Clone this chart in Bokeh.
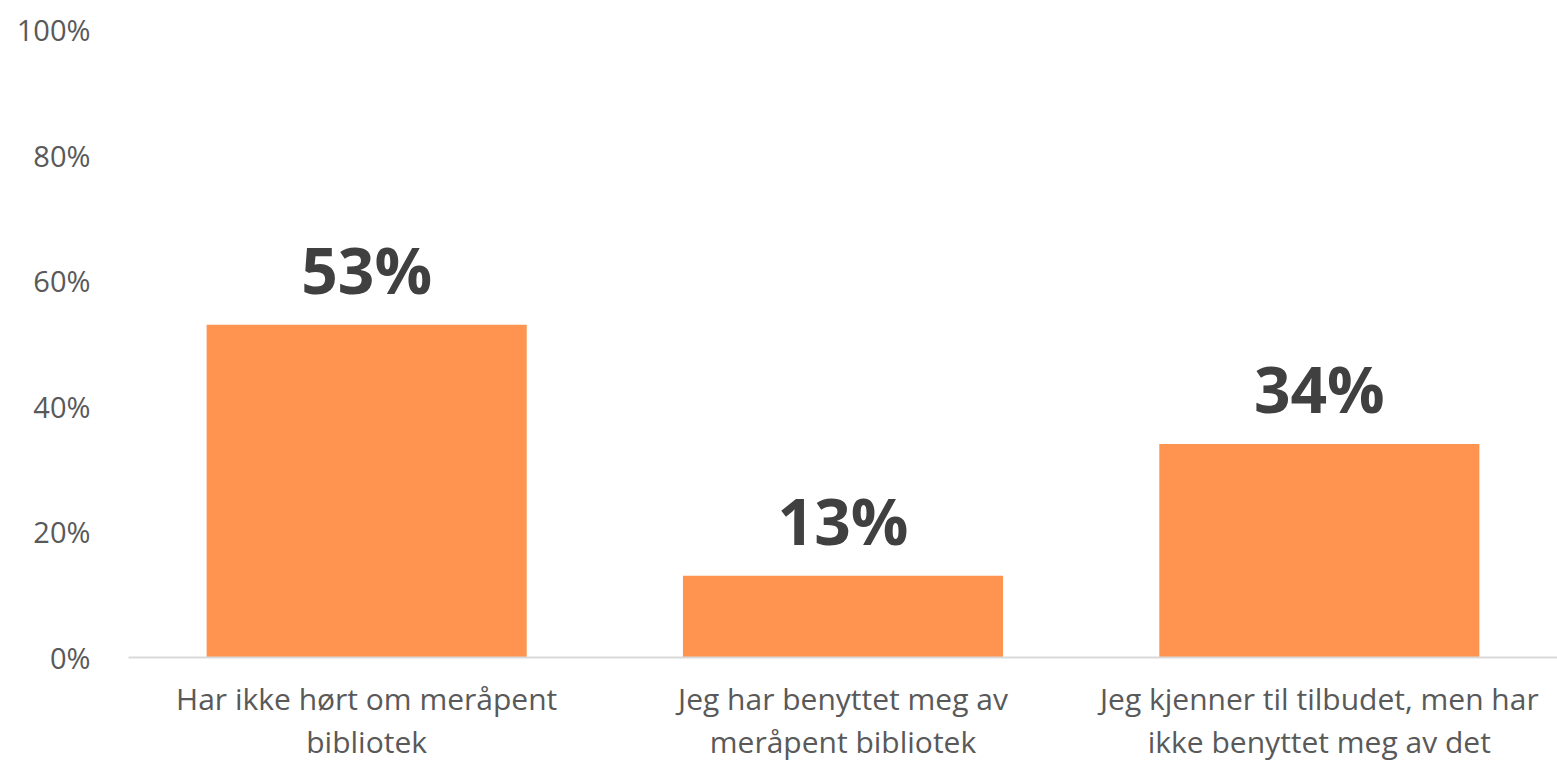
from bokeh.plotting import figure
from bokeh.models import ColumnDataSource, LabelSet, NumeralTickFormatter, FixedTicker
from bokeh.core.properties import value
from bokeh.embed import file_html
from bokeh.resources import INLINE

categories = [
    "Har ikke hørt om meråpent\nbibliotek",
    "Jeg har benyttet meg av\nmeråpent bibliotek",
    "Jeg kjenner til tilbudet, men har\nikke benyttet meg av det",
]
values = [0.53, 0.13, 0.34]
value_labels = ["53%", "13%", "34%"]
y_ticks = [0, 0.2, 0.4, 0.6, 0.8, 1.0]

FONT = "Open Sans"

src = ColumnDataSource(dict(cat=categories, val=values, lab=value_labels))

p = figure(
    x_range=categories, y_range=(0, 1.0),
    width=1557, height=764,
    output_backend="svg", toolbar_location=None,
    min_border_left=128, min_border_right=0, min_border_top=29, min_border_bottom=107,
)
p.vbar(x="cat", top="val", width=0.672, source=src, color="#FF9350", line_color=None)

labels = LabelSet(x="cat", y="val", text="lab", source=src, y_offset=31,
                  text_align="center", text_baseline="alphabetic",
                  text_font=value(FONT), text_font_style="bold", text_font_size="64px",
                  text_color="#404040")
p.add_layout(labels)

p.outline_line_color = None
p.xgrid.grid_line_color = None
p.ygrid.grid_line_color = None

p.yaxis.ticker = FixedTicker(ticks=y_ticks)
p.yaxis.formatter = NumeralTickFormatter(format="0%")
p.yaxis.axis_line_color = None
p.yaxis.major_tick_line_color = None
p.yaxis.minor_tick_line_color = None
p.yaxis.major_label_text_font = FONT
p.yaxis.major_label_text_font_size = "29px"
p.yaxis.major_label_text_color = "#595959"
p.yaxis.major_label_standoff = 32

p.xaxis.axis_line_color = "#D9D9D9"
p.xaxis.axis_line_width = 2
p.xaxis.major_tick_line_color = None
p.xaxis.minor_tick_line_color = None
p.xaxis.major_label_text_font = FONT
p.xaxis.major_label_text_font_size = "30px"
p.xaxis.major_label_text_color = "#595959"
p.xaxis.major_label_standoff = 14
p.xaxis.major_label_text_line_height = 1.05

open("out.html", "w").write(file_html(p, INLINE))
